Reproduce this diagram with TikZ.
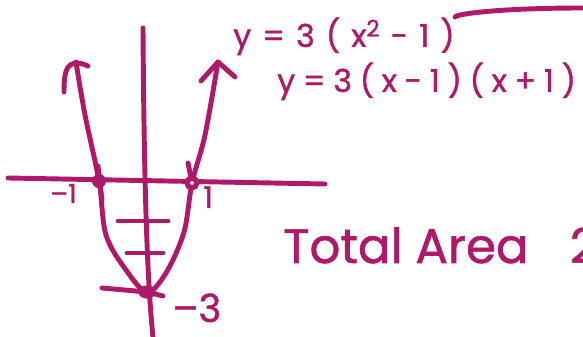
\documentclass[tikz,border=0pt]{standalone}
\usepackage{fontspec}
\setmainfont{Poppins}[FakeBold=1.2]
\usetikzlibrary{shapes.geometric,positioning}
\definecolor{ink}{RGB}{175,25,105}
\newcommand{\spreadto}[2]{\hbox to #1{#2}}
\tikzset{pen/.style={draw=ink, line width=2.8pt, line cap=round, line join=round}}
\tikzset{dot/.style={circle, fill=ink, inner sep=0pt, minimum size=8pt}}
\tikzset{ring/.style={circle, draw=ink, fill=white, line width=3pt, inner sep=0pt, minimum size=5.5pt}}
\tikzset{vdot/.style={ellipse, fill=ink, inner sep=0pt, minimum width=10pt, minimum height=7.5pt}}
\tikzset{hand/.style={text=ink, inner sep=0pt, anchor=base west}}

\begin{document}
\begin{tikzpicture}[x=0.02cm, y=-0.02cm]
        \useasboundingbox (0,0) rectangle (583,337);
        \clip (0,0) rectangle (583,337);

        % axes
        \coordinate (xl) at (8,178);
        \coordinate (xr) at (325,184);
        \coordinate (ytop) at (143,28);
        \coordinate (ybot) at (153,337);
        \draw[pen] (xl) -- (xr);
        \draw[pen] (ytop) .. controls (144,180) and (147,280) .. (ybot);

        % parabola
        \coordinate (ltip) at (76,62);
        \coordinate (la) at (85,115);
        \coordinate (m1) at (99,181);
        \coordinate (lb) at (106,235);
        \coordinate (lc) at (126,270);
        \coordinate (m3) at (147,292);
        \coordinate (rc) at (166,273);
        \coordinate (rb) at (184,232);
        \coordinate (p1) at (192,183);
        \coordinate (ra) at (205,135);
        \coordinate (rtip) at (218,62);
        \draw[pen] plot[smooth, tension=0.55] coordinates {(ltip) (la) (m1) (lb) (lc) (m3) (rc) (rb) (p1) (ra) (rtip)};

        % arrow heads
        \coordinate (lbarb) at (64,92);
        \coordinate (lhook) at (88,66);
        \draw[pen] (lbarb) .. controls (64,72) and (66,56) .. (lhook);
        \coordinate (rbarb1) at (201,81);
        \coordinate (rbarb2) at (235,77);
        \draw[pen] (rbarb1) -- (rtip) -- (rbarb2);

        % ticks
        \draw[pen] (98,166) -- (102,200);
        \draw[pen] (188,163) -- (191,178);
        \draw[pen] (118,221) -- (168,221);
        \draw[pen] (127,253) -- (163,253);
        \draw[pen] (102,288) -- (m3) -- (163,296);

        % points
        \node[dot] (n1) at (m1) {};
        \node[ring] (n2) at (p1) {};
        \node[vdot] (n3) at (m3) {};

        % labels
        \node[hand, font=\fontsize{15}{15}\selectfont] (lm1) at (50,203) {–1};
        \node[hand, font=\fontsize{17}{17}\selectfont] (lp1) at (203,208) {1};
        \node[hand, font=\fontsize{22}{22}\selectfont] (lm3) at (172,322) {–3};

        \node[hand, font=\fontsize{18}{18}\selectfont] (eqa) at (233,47)
          {\spreadto{126pt}{y\hfil=\hfil3\hfil(\hfil x\raisebox{6pt}{\fontsize{13}{13}\selectfont 2}\hfil-\hfil1\hfil)}};
        \node[hand, font=\fontsize{18}{18}\selectfont] (eqb) at (277,92)
          {\spreadto{170pt}{y\hfil=\hfil3\hfil(\hfil x\hfil-\hfil1\hfil)\hfil(\hfil x\hfil+\hfil1\hfil)}};
        \draw[pen] (eqa.north east) .. controls (455,14) and (500,8) .. (583,8);

        \node[hand, font=\fontsize{27.5}{27.5}\selectfont] (area) at (283,263) {Total Area\hspace{23.5pt}2};
\end{tikzpicture}
\end{document}
